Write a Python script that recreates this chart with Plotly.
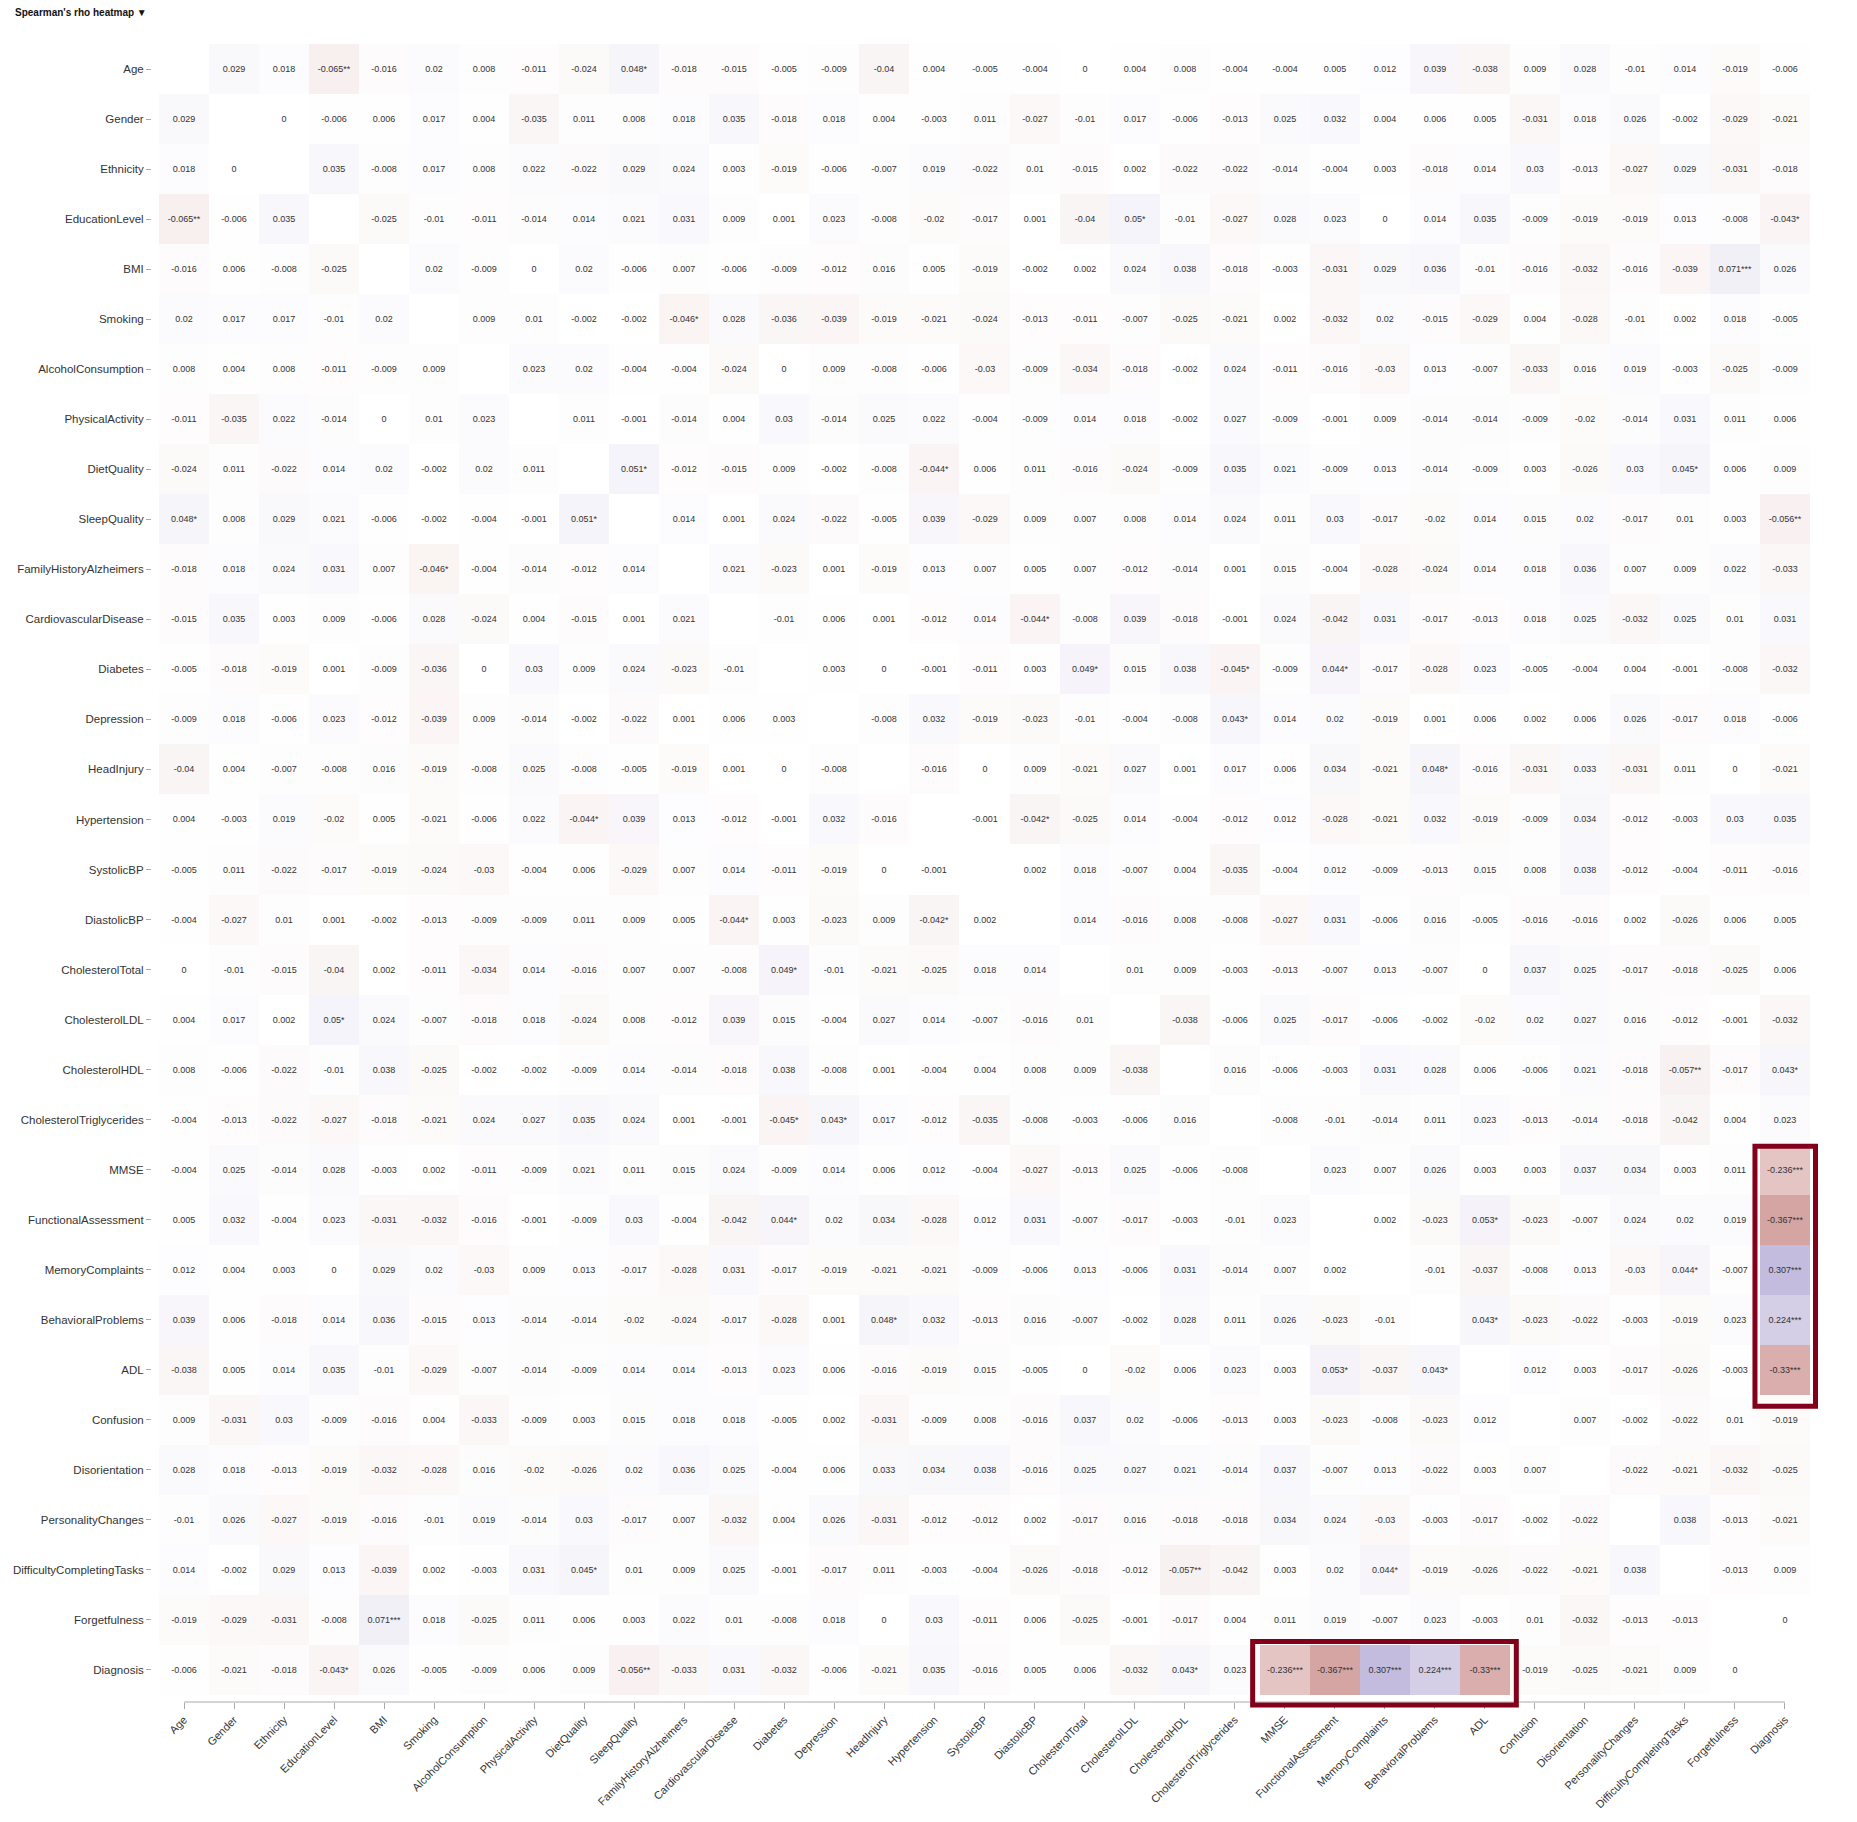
import plotly.graph_objects as go

variables = ["Age", "Gender", "Ethnicity", "EducationLevel", "BMI", "Smoking",
             "AlcoholConsumption", "PhysicalActivity", "DietQuality", "SleepQuality",
             "FamilyHistoryAlzheimers", "CardiovascularDisease", "Diabetes", "Depression",
             "HeadInjury", "Hypertension", "SystolicBP", "DiastolicBP", "CholesterolTotal",
             "CholesterolLDL", "CholesterolHDL", "CholesterolTriglycerides", "MMSE",
             "FunctionalAssessment", "MemoryComplaints", "BehavioralProblems", "ADL",
             "Confusion", "Disorientation", "PersonalityChanges", "DifficultyCompletingTasks",
             "Forgetfulness", "Diagnosis"]

# Upper triangle of Spearman's rho (row i, columns i+1 .. end)
rho_age = [0.029, 0.018, -0.065, -0.016, 0.02, 0.008, -0.011, -0.024, 0.048, -0.018, -0.015, -0.005, -0.009, -0.04, 0.004, -0.005, -0.004, 0, 0.004, 0.008, -0.004, -0.004, 0.005, 0.012, 0.039, -0.038, 0.009, 0.028, -0.01, 0.014, -0.019, -0.006]
rho_gender = [0, -0.006, 0.006, 0.017, 0.004, -0.035, 0.011, 0.008, 0.018, 0.035, -0.018, 0.018, 0.004, -0.003, 0.011, -0.027, -0.01, 0.017, -0.006, -0.013, 0.025, 0.032, 0.004, 0.006, 0.005, -0.031, 0.018, 0.026, -0.002, -0.029, -0.021]
rho_ethnicity = [0.035, -0.008, 0.017, 0.008, 0.022, -0.022, 0.029, 0.024, 0.003, -0.019, -0.006, -0.007, 0.019, -0.022, 0.01, -0.015, 0.002, -0.022, -0.022, -0.014, -0.004, 0.003, -0.018, 0.014, 0.03, -0.013, -0.027, 0.029, -0.031, -0.018]
rho_education = [-0.025, -0.01, -0.011, -0.014, 0.014, 0.021, 0.031, 0.009, 0.001, 0.023, -0.008, -0.02, -0.017, 0.001, -0.04, 0.05, -0.01, -0.027, 0.028, 0.023, 0, 0.014, 0.035, -0.009, -0.019, -0.019, 0.013, -0.008, -0.043]
rho_bmi = [0.02, -0.009, 0, 0.02, -0.006, 0.007, -0.006, -0.009, -0.012, 0.016, 0.005, -0.019, -0.002, 0.002, 0.024, 0.038, -0.018, -0.003, -0.031, 0.029, 0.036, -0.01, -0.016, -0.032, -0.016, -0.039, 0.071, 0.026]
rho_smoking = [0.009, 0.01, -0.002, -0.002, -0.046, 0.028, -0.036, -0.039, -0.019, -0.021, -0.024, -0.013, -0.011, -0.007, -0.025, -0.021, 0.002, -0.032, 0.02, -0.015, -0.029, 0.004, -0.028, -0.01, 0.002, 0.018, -0.005]
rho_alcohol = [0.023, 0.02, -0.004, -0.004, -0.024, 0, 0.009, -0.008, -0.006, -0.03, -0.009, -0.034, -0.018, -0.002, 0.024, -0.011, -0.016, -0.03, 0.013, -0.007, -0.033, 0.016, 0.019, -0.003, -0.025, -0.009]
rho_physical = [0.011, -0.001, -0.014, 0.004, 0.03, -0.014, 0.025, 0.022, -0.004, -0.009, 0.014, 0.018, -0.002, 0.027, -0.009, -0.001, 0.009, -0.014, -0.014, -0.009, -0.02, -0.014, 0.031, 0.011, 0.006]
rho_diet = [0.051, -0.012, -0.015, 0.009, -0.002, -0.008, -0.044, 0.006, 0.011, -0.016, -0.024, -0.009, 0.035, 0.021, -0.009, 0.013, -0.014, -0.009, 0.003, -0.026, 0.03, 0.045, 0.006, 0.009]
rho_sleep = [0.014, 0.001, 0.024, -0.022, -0.005, 0.039, -0.029, 0.009, 0.007, 0.008, 0.014, 0.024, 0.011, 0.03, -0.017, -0.02, 0.014, 0.015, 0.02, -0.017, 0.01, 0.003, -0.056]
rho_family = [0.021, -0.023, 0.001, -0.019, 0.013, 0.007, 0.005, 0.007, -0.012, -0.014, 0.001, 0.015, -0.004, -0.028, -0.024, 0.014, 0.018, 0.036, 0.007, 0.009, 0.022, -0.033]
rho_cardio = [-0.01, 0.006, 0.001, -0.012, 0.014, -0.044, -0.008, 0.039, -0.018, -0.001, 0.024, -0.042, 0.031, -0.017, -0.013, 0.018, 0.025, -0.032, 0.025, 0.01, 0.031]
rho_diabetes = [0.003, 0, -0.001, -0.011, 0.003, 0.049, 0.015, 0.038, -0.045, -0.009, 0.044, -0.017, -0.028, 0.023, -0.005, -0.004, 0.004, -0.001, -0.008, -0.032]
rho_depression = [-0.008, 0.032, -0.019, -0.023, -0.01, -0.004, -0.008, 0.043, 0.014, 0.02, -0.019, 0.001, 0.006, 0.002, 0.006, 0.026, -0.017, 0.018, -0.006]
rho_headinjury = [-0.016, 0, 0.009, -0.021, 0.027, 0.001, 0.017, 0.006, 0.034, -0.021, 0.048, -0.016, -0.031, 0.033, -0.031, 0.011, 0, -0.021]
rho_hypertension = [-0.001, -0.042, -0.025, 0.014, -0.004, -0.012, 0.012, -0.028, -0.021, 0.032, -0.019, -0.009, 0.034, -0.012, -0.003, 0.03, 0.035]
rho_systolic = [0.002, 0.018, -0.007, 0.004, -0.035, -0.004, 0.012, -0.009, -0.013, 0.015, 0.008, 0.038, -0.012, -0.004, -0.011, -0.016]
rho_diastolic = [0.014, -0.016, 0.008, -0.008, -0.027, 0.031, -0.006, 0.016, -0.005, -0.016, -0.016, 0.002, -0.026, 0.006, 0.005]
rho_choltotal = [0.01, 0.009, -0.003, -0.013, -0.007, 0.013, -0.007, 0, 0.037, 0.025, -0.017, -0.018, -0.025, 0.006]
rho_chol_ldl = [-0.038, -0.006, 0.025, -0.017, -0.006, -0.002, -0.02, 0.02, 0.027, 0.016, -0.012, -0.001, -0.032]
rho_chol_hdl = [0.016, -0.006, -0.003, 0.031, 0.028, 0.006, -0.006, 0.021, -0.018, -0.057, -0.017, 0.043]
rho_chol_trig = [-0.008, -0.01, -0.014, 0.011, 0.023, -0.013, -0.014, -0.018, -0.042, 0.004, 0.023]
rho_mmse = [0.023, 0.007, 0.026, 0.003, 0.003, 0.037, 0.034, 0.003, 0.011, -0.236]
rho_functional = [0.002, -0.023, 0.053, -0.023, -0.007, 0.024, 0.02, 0.019, -0.367]
rho_memory = [-0.01, -0.037, -0.008, 0.013, -0.03, 0.044, -0.007, 0.307]
rho_behavioral = [0.043, -0.023, -0.022, -0.003, -0.019, 0.023, 0.224]
rho_adl = [0.012, 0.003, -0.017, -0.026, -0.003, -0.33]
rho_confusion = [0.007, -0.002, -0.022, 0.01, -0.019]
rho_disorientation = [-0.022, -0.021, -0.032, -0.025]
rho_personality = [0.038, -0.013, -0.021]
rho_difficulty = [-0.013, 0.009]
rho_forgetfulness = [0]

upper_rows = [rho_age, rho_gender, rho_ethnicity, rho_education, rho_bmi, rho_smoking,
              rho_alcohol, rho_physical, rho_diet, rho_sleep, rho_family, rho_cardio,
              rho_diabetes, rho_depression, rho_headinjury, rho_hypertension, rho_systolic,
              rho_diastolic, rho_choltotal, rho_chol_ldl, rho_chol_hdl, rho_chol_trig,
              rho_mmse, rho_functional, rho_memory, rho_behavioral, rho_adl, rho_confusion,
              rho_disorientation, rho_personality, rho_difficulty, rho_forgetfulness]

# significance stars (pairs of variable names)
significance = {
    ("Age", "EducationLevel"): "**", ("Age", "SleepQuality"): "*",
    ("EducationLevel", "CholesterolLDL"): "*", ("EducationLevel", "Diagnosis"): "*",
    ("BMI", "Forgetfulness"): "***", ("Smoking", "FamilyHistoryAlzheimers"): "*",
    ("DietQuality", "SleepQuality"): "*", ("DietQuality", "Hypertension"): "*",
    ("DietQuality", "DifficultyCompletingTasks"): "*", ("SleepQuality", "Diagnosis"): "**",
    ("CardiovascularDisease", "DiastolicBP"): "*", ("Diabetes", "CholesterolTotal"): "*",
    ("Diabetes", "CholesterolTriglycerides"): "*", ("Diabetes", "FunctionalAssessment"): "*",
    ("Depression", "CholesterolTriglycerides"): "*", ("HeadInjury", "BehavioralProblems"): "*",
    ("Hypertension", "DiastolicBP"): "*", ("CholesterolHDL", "DifficultyCompletingTasks"): "**",
    ("CholesterolHDL", "Diagnosis"): "*", ("MMSE", "Diagnosis"): "***",
    ("FunctionalAssessment", "ADL"): "*", ("FunctionalAssessment", "Diagnosis"): "***",
    ("MemoryComplaints", "DifficultyCompletingTasks"): "*", ("MemoryComplaints", "Diagnosis"): "***",
    ("BehavioralProblems", "ADL"): "*", ("BehavioralProblems", "Diagnosis"): "***",
    ("ADL", "Diagnosis"): "***",
}

highlight_vars = ["MMSE", "FunctionalAssessment", "MemoryComplaints", "BehavioralProblems", "ADL"]
target_var = "Diagnosis"
menu_label = "Spearman's rho heatmap"

n = len(variables)
z = [[None] * n for _ in range(n)]
text = [[""] * n for _ in range(n)]
for i, row in enumerate(upper_rows):
    for k, v in enumerate(row):
        j = i + 1 + k
        lab = f"{v:g}" + significance.get((variables[i], variables[j]), "")
        z[i][j] = v
        z[j][i] = v
        text[i][j] = lab
        text[j][i] = lab

FONT = "Liberation Sans, Arial, sans-serif"

fig = go.Figure(go.Heatmap(
    z=z, x=variables, y=variables, text=text, texttemplate="%{text}",
    textfont=dict(size=9, color="#333333", family=FONT),
    colorscale=[[0, "rgb(140,10,5)"], [0.5, "rgb(255,255,255)"], [1, "rgb(63,37,148)"]],
    zmin=-1, zmax=1, showscale=False, hoverongaps=False,
    hovertemplate="%{y} / %{x}: %{text}<extra></extra>",
))

# page body adds an 8px margin around the figure
W, H = 1841, 1806
ml, mr, mt, mb = 144, 39, 36, 112
PW, PH = W - ml - mr, H - mt - mb
off = 7 / 50.0  # axis offset in category units
x_range = [-0.5 - off, n - 0.5]
y_range = [n - 0.5 + off, -0.5]


def x_to_paper(v):
    return (v - x_range[0]) / (x_range[1] - x_range[0])


def y_to_paper(v):
    return (y_range[0] - v) / (y_range[0] - y_range[1])


fig.update_layout(
    width=W, height=H,
    margin=dict(l=ml, r=mr, t=mt, b=mb, pad=0, autoexpand=False),
    paper_bgcolor="white", plot_bgcolor="white",
    font=dict(family=FONT, color="#333333"),
    xaxis=dict(range=x_range, showgrid=False, zeroline=False, showline=False,
               ticks="outside", ticklen=6, tickcolor="#aaaaaa", tickwidth=1,
               tickangle=-45, tickfont=dict(size=11, color="#333333", family=FONT),
               fixedrange=True),
    yaxis=dict(range=y_range, showgrid=False, zeroline=False, showline=False,
               ticks="outside", ticklen=5, tickcolor="#aaaaaa", tickwidth=1,
               tickfont=dict(size=11.5, color="#333333", family=FONT), fixedrange=True),
    annotations=[dict(
        text="<b>" + menu_label + "</b> \u25BC", xref="paper", yref="paper",
        x=(5 - ml) / PW, y=1 + (mt - 5) / PH, xanchor="left", yanchor="middle",
        showarrow=False, font=dict(size=10, color="#111111", family=FONT),
    )],
)

shapes = [
    # x axis line from first to last category
    dict(type="line", xref="x", yref="paper", x0=variables[0], x1=variables[-1], y0=0, y1=0,
         line=dict(color="#aaaaaa", width=1)),
]

# highlight boxes: target column and target row (paper refs so they are not clipped)
first_h = variables.index(highlight_vars[0])
last_h = variables.index(highlight_vars[-1])
tgt = variables.index(target_var)
box_color = "rgb(130,0,25)"
shapes.append(dict(type="rect", xref="paper", yref="y",
                   x0=x_to_paper(tgt - 0.5 - 0.1), x1=x_to_paper(tgt + 0.5 + 0.11),
                   y0=first_h - 0.5 + 0.03, y1=last_h + 0.5 + 0.23,
                   line=dict(color=box_color, width=5), fillcolor="rgba(0,0,0,0)"))
shapes.append(dict(type="rect", xref="x", yref="paper",
                   x0=first_h - 0.5 - 0.14, x1=last_h + 0.5 + 0.13,
                   y0=y_to_paper(tgt - 0.5 - 0.07), y1=y_to_paper(tgt + 0.5 + 0.2),
                   line=dict(color=box_color, width=5), fillcolor="rgba(0,0,0,0)"))
fig.update_layout(shapes=shapes)

fig.write_html("out.html")
